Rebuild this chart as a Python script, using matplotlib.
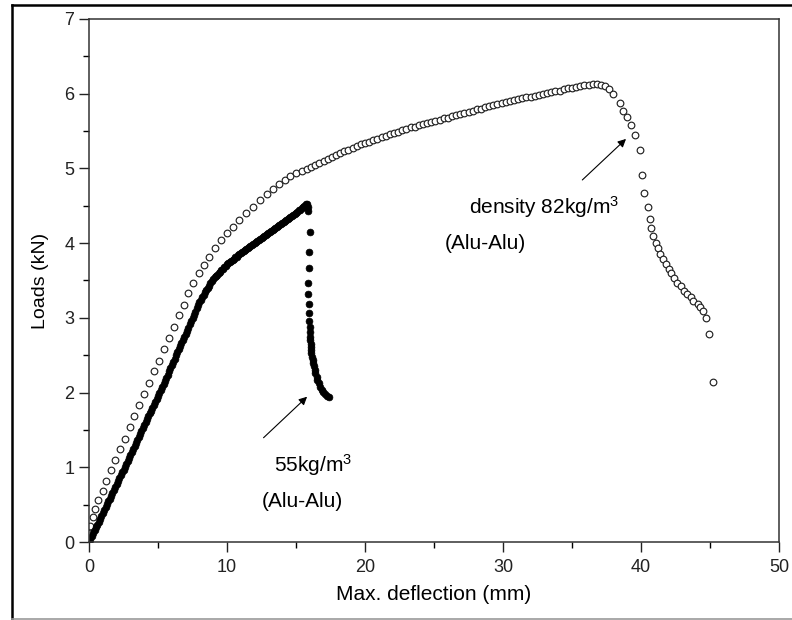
import matplotlib.pyplot as plt
from matplotlib.lines import Line2D

plt.rcParams['font.family'] = ['Liberation Sans', 'DejaVu Sans']
plt.rcParams['mathtext.fontset'] = 'custom'
plt.rcParams['mathtext.rm'] = 'Liberation Sans'
plt.rcParams['mathtext.it'] = 'Liberation Sans'

# 82 kg/m3 sample (open circles)
x_82 = [0.0, 0.02, 0.05, 0.1, 0.3, 0.43, 0.67, 1.0, 1.23, 1.6, 1.88, 2.25, 2.6, 3.0, 3.26, 3.6,
        4.0, 4.35, 4.7, 5.07, 5.43, 5.8, 6.16, 6.5, 6.9, 7.2, 7.55, 7.95, 8.3, 8.7, 9.1, 9.55,
        10.0, 10.4, 10.9, 11.4, 11.9, 12.4, 12.9, 13.3, 13.8, 14.2, 14.6, 15.0, 15.4,
        15.8, 16.1, 16.4, 16.7, 17.0, 17.3, 17.6, 17.9, 18.2, 18.5, 18.8, 19.1, 19.4, 19.7,
        20.0, 20.3, 20.6, 20.9, 21.2, 21.5, 21.8, 22.1, 22.4, 22.7, 23.0, 23.3, 23.6, 23.9,
        24.2, 24.5, 24.8, 25.1, 25.4, 25.7, 26.0, 26.3, 26.6, 26.9, 27.2, 27.5, 27.8, 28.1,
        28.4, 28.7, 29.0, 29.3, 29.6, 29.9, 30.2, 30.5, 30.8, 31.1, 31.4, 31.7, 32.0, 32.3,
        32.6, 32.9, 33.2, 33.5, 33.8, 34.1, 34.4, 34.7, 35.0, 35.3, 35.6, 35.9, 36.2, 36.5,
        36.8, 37.1, 37.4, 37.7, 38.0, 38.5, 38.7, 39.0, 39.3, 39.6, 39.9, 40.1, 40.25, 40.5,
        40.65, 40.7, 40.9, 41.1, 41.2, 41.4, 41.6, 41.8, 42.0, 42.2, 42.4, 42.6, 42.9, 43.1,
        43.3, 43.6, 43.8, 44.1, 44.3, 44.5, 44.7, 44.9, 45.2]
y_82 = [0.0, 0.06, 0.12, 0.21, 0.33, 0.44, 0.56, 0.68, 0.82, 0.97, 1.1, 1.24, 1.38, 1.54, 1.69, 1.83,
        1.98, 2.13, 2.29, 2.42, 2.58, 2.73, 2.88, 3.04, 3.17, 3.33, 3.47, 3.6, 3.71, 3.82, 3.94, 4.04,
        4.13, 4.22, 4.31, 4.4, 4.49, 4.58, 4.66, 4.73, 4.79, 4.85, 4.9, 4.94, 4.97,
        4.99, 5.02, 5.05, 5.07, 5.10, 5.13, 5.15, 5.18, 5.20, 5.23, 5.25, 5.27, 5.30, 5.32,
        5.34, 5.36, 5.38, 5.40, 5.42, 5.44, 5.46, 5.48, 5.49, 5.51, 5.53, 5.55, 5.56, 5.58,
        5.59, 5.61, 5.62, 5.64, 5.65, 5.67, 5.68, 5.70, 5.71, 5.73, 5.74, 5.76, 5.77, 5.79,
        5.80, 5.82, 5.83, 5.85, 5.86, 5.88, 5.89, 5.90, 5.91, 5.93, 5.94, 5.95, 5.96, 5.97,
        5.98, 5.99, 6.01, 6.02, 6.03, 6.04, 6.06, 6.07, 6.08, 6.09, 6.10, 6.11, 6.12, 6.13,
        6.13, 6.12, 6.10, 6.06, 6.00, 5.88, 5.77, 5.69, 5.58, 5.45, 5.25, 4.91, 4.67, 4.49,
        4.32, 4.2, 4.1, 4.0, 3.93, 3.86, 3.79, 3.72, 3.65, 3.6, 3.53, 3.47, 3.42, 3.36,
        3.32, 3.28, 3.23, 3.19, 3.14, 3.09, 3.0, 2.78, 2.14]

# 55 kg/m3 sample (filled circles)
x_55 = [0.0, 0.1, 0.2, 0.3, 0.4, 0.5, 0.6, 0.7, 0.8, 0.9, 1.0, 1.1, 1.2, 1.3, 1.4, 1.5, 1.6, 1.7,
        1.8, 1.9, 2.0, 2.1, 2.2, 2.3, 2.4, 2.5, 2.6, 2.7, 2.8, 2.9, 3.0, 3.1, 3.2, 3.3, 3.4, 3.5,
        3.6, 3.7, 3.8, 3.9, 4.0, 4.1, 4.2, 4.3, 4.4, 4.5, 4.6, 4.7, 4.8, 4.9, 5.0, 5.1, 5.2, 5.3,
        5.4, 5.5, 5.6, 5.7, 5.8, 5.9, 6.0, 6.1, 6.2, 6.3, 6.4, 6.5, 6.6, 6.7, 6.8, 6.9, 7.0, 7.1,
        7.2, 7.3, 7.4, 7.5, 7.6, 7.7, 7.8, 7.9, 8.0, 8.1, 8.2, 8.3, 8.4, 8.5, 8.6, 8.7, 8.8, 8.9,
        9.0, 9.1, 9.2, 9.3, 9.4, 9.5, 9.6, 9.7, 9.8, 9.9, 10.0, 10.1, 10.2, 10.3, 10.4, 10.5,
        10.6, 10.7, 10.8, 10.9, 11.0, 11.1, 11.2, 11.3, 11.4, 11.5, 11.6, 11.7, 11.8, 11.9,
        12.0, 12.1, 12.2, 12.3, 12.4, 12.5, 12.6, 12.7, 12.8, 12.9, 13.0, 13.1, 13.2, 13.3,
        13.4, 13.5, 13.6, 13.7, 13.8, 13.9, 14.0, 14.1, 14.2, 14.3, 14.4, 14.5, 14.6, 14.7,
        14.8, 14.9, 15.0, 15.1, 15.2, 15.3, 15.4, 15.5, 15.6, 15.7, 15.8, 15.85, 15.9,
        16.0, 15.95, 15.95, 15.9, 15.9, 15.95, 15.95, 15.95, 16.0, 16.0, 16.0, 16.0, 16.05,
        16.05, 16.1, 16.1, 16.15, 16.2, 16.25, 16.3, 16.35, 16.4, 16.5, 16.55, 16.65, 16.75,
        16.85, 16.95, 17.1, 17.25, 17.4]
y_55 = [0.00, 0.04, 0.08, 0.12, 0.16, 0.20, 0.23, 0.27, 0.31, 0.35, 0.39, 0.43, 0.47, 0.51, 0.55,
        0.58, 0.62, 0.66, 0.70, 0.74, 0.78, 0.82, 0.86, 0.90, 0.94, 0.97, 1.01, 1.05, 1.09, 1.13,
        1.17, 1.21, 1.25, 1.29, 1.33, 1.36, 1.40, 1.44, 1.48, 1.52, 1.56, 1.60, 1.64, 1.68, 1.72,
        1.75, 1.79, 1.83, 1.87, 1.91, 1.95, 1.99, 2.03, 2.08, 2.12, 2.16, 2.20, 2.24, 2.29, 2.33,
        2.37, 2.41, 2.45, 2.50, 2.54, 2.58, 2.62, 2.66, 2.71, 2.75, 2.79, 2.83, 2.87, 2.92, 2.96,
        3.00, 3.04, 3.08, 3.13, 3.17, 3.21, 3.24, 3.28, 3.31, 3.34, 3.37, 3.40, 3.43, 3.46, 3.49,
        3.52, 3.54, 3.56, 3.58, 3.60, 3.62, 3.64, 3.66, 3.68, 3.70, 3.72, 3.73, 3.75, 3.76, 3.78,
        3.79, 3.81, 3.82, 3.84, 3.85, 3.87, 3.88, 3.89, 3.91, 3.92, 3.94, 3.95, 3.96, 3.98, 3.99,
        4.00, 4.02, 4.03, 4.04, 4.06, 4.07, 4.08, 4.10, 4.11, 4.12, 4.14, 4.15, 4.16, 4.18, 4.19,
        4.20, 4.22, 4.23, 4.24, 4.26, 4.27, 4.28, 4.30, 4.31, 4.32, 4.34, 4.35, 4.36, 4.38, 4.39,
        4.40, 4.42, 4.44, 4.45, 4.47, 4.49, 4.50, 4.52, 4.52, 4.49, 4.43,
        4.15, 3.88, 3.67, 3.47, 3.32, 3.19, 3.06, 2.96, 2.88, 2.81, 2.75, 2.70, 2.65,
        2.61, 2.57, 2.53, 2.48, 2.44, 2.40, 2.35, 2.30, 2.26, 2.21, 2.17, 2.13, 2.08,
        2.04, 2.01, 1.98, 1.96, 1.94]

fig = plt.figure(figsize=(7.92, 6.2), dpi=100)
ax = fig.add_axes([0.1124, 0.1258, 0.8712, 0.8436])

ax.plot(x_82, y_82, linestyle='none', marker='o', markersize=4.8,
        markerfacecolor='white', markeredgecolor='#222222', markeredgewidth=0.85)
ax.plot(x_55, y_55, linestyle='none', marker='o', markersize=4.9,
        markerfacecolor='black', markeredgecolor='black', markeredgewidth=0.5)

ax.set_xlim(0, 50)
ax.set_ylim(0, 7)
ax.set_xticks([0, 10, 20, 30, 40, 50])
ax.set_xticks([5, 15, 25, 35, 45], minor=True)
ax.set_yticks([0, 1, 2, 3, 4, 5, 6, 7])
ax.set_yticks([0.5, 1.5, 2.5, 3.5, 4.5, 5.5, 6.5], minor=True)
ax.tick_params(which='major', direction='out', length=7, width=1, labelsize=13, colors='#222222')
ax.tick_params(which='minor', direction='out', length=4.5, width=1)
ax.tick_params(axis='x', pad=5)
for s in ax.spines.values():
    s.set_linewidth(1.1)
    s.set_color('#333333')

ax.set_xlabel('Max. deflection (mm)', fontsize=15, labelpad=7)
ax.set_ylabel('Loads (kN)', fontsize=14, labelpad=11)

# annotations
ax.annotate('', xy=(39.06, 5.42), xytext=(35.6, 4.82),
            arrowprops=dict(arrowstyle='-|>', color='black', lw=0.8, mutation_scale=12))
ax.text(27.5, 4.48, 'density 82kg/m$^3$', fontsize=15, va='center', ha='left')
ax.text(25.8, 4.0, '(Alu-Alu)', fontsize=15, va='center', ha='left')
ax.annotate('', xy=(15.95, 1.97), xytext=(12.5, 1.37),
            arrowprops=dict(arrowstyle='-|>', color='black', lw=0.8, mutation_scale=12))
ax.text(13.4, 1.03, '55kg/m$^3$', fontsize=15, va='center', ha='left')
ax.text(12.5, 0.54, '(Alu-Alu)', fontsize=15, va='center', ha='left')

# outer frame
fig.add_artist(Line2D([12 / 792, 12 / 792], [1 - 619 / 620, 1 - 5 / 620], color='black', lw=1.8))
fig.add_artist(Line2D([12 / 792, 1.0], [1 - 5 / 620, 1 - 5 / 620], color='black', lw=1.8))
fig.add_artist(Line2D([12 / 792, 1.0], [1 - 619 / 620, 1 - 619 / 620], color='#999999', lw=1.2))

fig.savefig('out.png', dpi=100)
plt.close(fig)
